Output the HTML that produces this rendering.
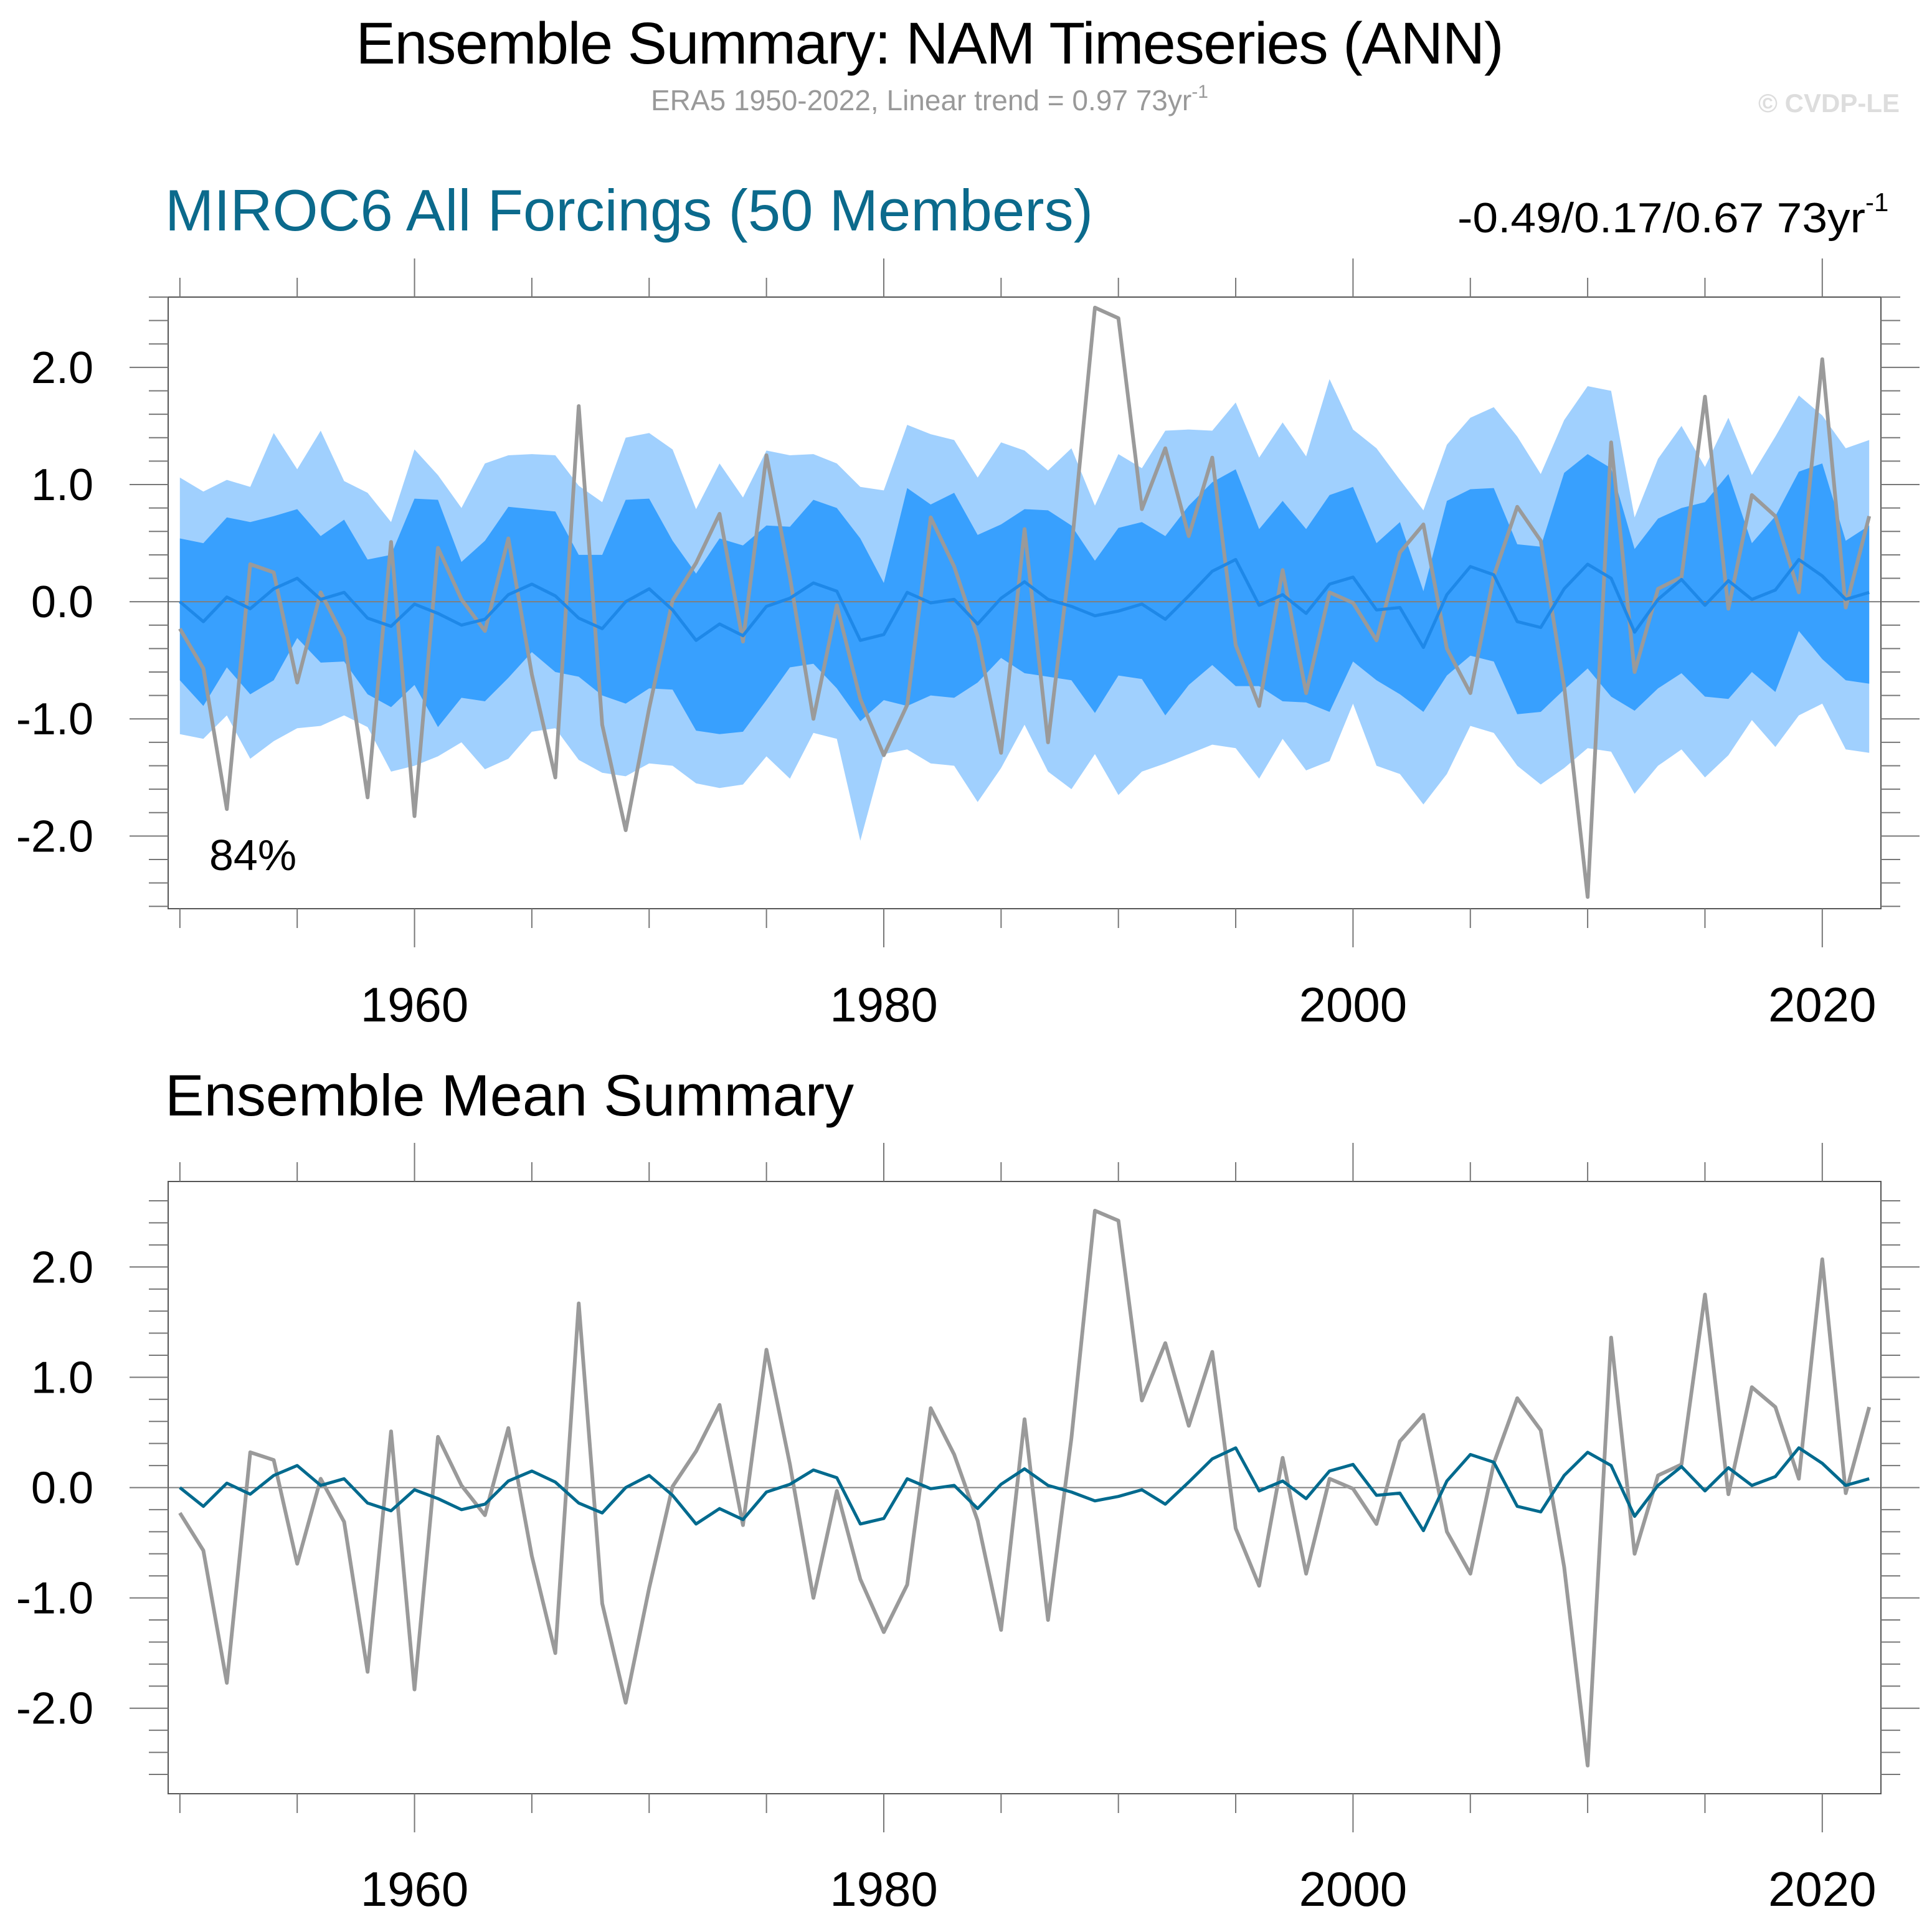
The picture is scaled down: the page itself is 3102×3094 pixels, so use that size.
<!DOCTYPE html>
<html><head><meta charset="utf-8"><style>
html,body{margin:0;padding:0;background:#fff;}
svg{display:block;font-family:"Liberation Sans",Arial,sans-serif;}
</style></head><body>
<svg id="chart" width="3102" height="3094" viewBox="0 0 3102 3094" xmlns="http://www.w3.org/2000/svg">
<text x="1493" y="102" font-size="95" text-anchor="middle" textLength="1843" fill="#000">Ensemble Summary: NAM Timeseries (ANN)</text>
<text x="1045" y="177" font-size="46" fill="#999">ERA5 1950-2022, Linear trend = 0.97 73yr<tspan dy="-20" font-size="30">-1</tspan></text>
<text x="3050" y="180" font-size="42" font-weight="bold" fill="#ddd" text-anchor="end">© CVDP-LE</text>
<text x="265" y="370" font-size="94" fill="#0b6a8c" textLength="1490">MIROC6 All Forcings (50 Members)</text>
<text x="2340" y="373" font-size="68" fill="#000"><tspan textLength="655" lengthAdjust="spacingAndGlyphs">-0.49/0.17/0.67 73yr</tspan><tspan dy="-34" font-size="42">-1</tspan></text>
<text x="265" y="1791" font-size="94" fill="#000" textLength="1106">Ensemble Mean Summary</text>
<g id="p1"></g>
<g id="p2"></g>
</svg>
<script>
const years = Array.from({length:73},(_,i)=>1950+i);
const era5 = [-0.23,-0.57,-1.77,0.32,0.25,-0.69,0.08,-0.31,-1.67,0.51,
-1.83,0.46,0.02,-0.25,0.54,-0.62,-1.50,1.67,-1.05,-1.95,
-0.91,0.01,0.33,0.75,-0.34,1.25,0.21,-1.00,-0.03,-0.83,
-1.31,-0.88,0.72,0.30,-0.30,-1.29,0.62,-1.20,0.45,2.51,
2.42,0.79,1.31,0.56,1.23,-0.37,-0.89,0.27,-0.78,0.08,
-0.01,-0.33,0.42,0.66,-0.40,-0.78,0.22,0.81,0.52,-0.72,
-2.52,1.36,-0.60,0.11,0.21,1.75,-0.06,0.91,0.73,0.08,
2.07,-0.05,0.73];
const ensMean = [0.00,-0.17,0.04,-0.06,0.11,0.20,0.02,0.08,-0.14,-0.21,
-0.02,-0.10,-0.20,-0.15,0.06,0.15,0.05,-0.14,-0.23,0.00,
0.11,-0.07,-0.33,-0.19,-0.29,-0.04,0.03,0.16,0.09,-0.33,
-0.28,0.08,-0.01,0.02,-0.19,0.03,0.17,0.02,-0.04,-0.12,
-0.08,-0.02,-0.15,0.05,0.26,0.36,-0.03,0.06,-0.10,0.15,
0.21,-0.07,-0.05,-0.39,0.06,0.30,0.23,-0.17,-0.22,0.11,
0.32,0.20,-0.26,0.02,0.19,-0.03,0.18,0.02,0.10,0.36,
0.22,0.02,0.08];
const darkUpper = [0.54,0.50,0.72,0.68,0.73,0.79,0.56,0.70,0.36,0.40,
0.88,0.87,0.34,0.52,0.81,0.79,0.77,0.40,0.40,0.87,
0.88,0.52,0.24,0.54,0.48,0.65,0.64,0.87,0.80,0.54,
0.16,0.97,0.83,0.93,0.57,0.66,0.79,0.78,0.65,0.35,
0.63,0.68,0.56,0.82,1.02,1.13,0.62,0.86,0.62,0.91,
0.98,0.50,0.68,0.09,0.86,0.96,0.97,0.49,0.47,1.10,
1.26,1.14,0.45,0.71,0.80,0.85,1.09,0.50,0.73,1.11,
1.18,0.52,0.65];
const darkLower = [-0.67,-0.89,-0.56,-0.79,-0.67,-0.31,-0.52,-0.51,-0.79,-0.90,
-0.71,-1.07,-0.82,-0.85,-0.65,-0.43,-0.60,-0.64,-0.80,-0.87,
-0.74,-0.75,-1.10,-1.13,-1.11,-0.84,-0.56,-0.53,-0.74,-1.02,
-0.84,-0.89,-0.80,-0.82,-0.69,-0.48,-0.61,-0.64,-0.67,-0.95,
-0.63,-0.66,-0.97,-0.71,-0.54,-0.72,-0.72,-0.85,-0.86,-0.94,
-0.51,-0.67,-0.79,-0.94,-0.63,-0.46,-0.51,-0.96,-0.94,-0.75,
-0.57,-0.81,-0.93,-0.74,-0.61,-0.81,-0.83,-0.60,-0.77,-0.25,
-0.49,-0.67,-0.70];
const lightUpper = [1.06,0.94,1.04,0.98,1.44,1.13,1.46,1.03,0.93,0.68,
1.30,1.08,0.80,1.18,1.25,1.26,1.25,0.99,0.85,1.40,
1.44,1.30,0.79,1.18,0.89,1.29,1.25,1.26,1.18,0.98,
0.95,1.51,1.43,1.38,1.06,1.36,1.29,1.12,1.31,0.82,
1.26,1.14,1.46,1.47,1.46,1.70,1.23,1.53,1.24,1.90,
1.47,1.31,1.04,0.78,1.34,1.57,1.66,1.41,1.09,1.55,
1.84,1.80,0.72,1.22,1.50,1.15,1.57,1.08,1.41,1.76,
1.59,1.31,1.38];
const lightLower = [-1.13,-1.17,-0.97,-1.34,-1.19,-1.08,-1.06,-0.97,-1.07,-1.45,
-1.40,-1.32,-1.20,-1.43,-1.34,-1.11,-1.08,-1.35,-1.46,-1.49,
-1.38,-1.40,-1.55,-1.59,-1.56,-1.32,-1.51,-1.12,-1.17,-2.04,
-1.30,-1.26,-1.38,-1.40,-1.71,-1.42,-1.05,-1.45,-1.60,-1.30,
-1.65,-1.45,-1.38,-1.30,-1.22,-1.25,-1.51,-1.17,-1.44,-1.36,
-0.87,-1.40,-1.47,-1.73,-1.47,-1.06,-1.12,-1.40,-1.56,-1.42,
-1.25,-1.28,-1.64,-1.40,-1.26,-1.50,-1.31,-1.01,-1.24,-0.97,
-0.87,-1.26,-1.29];
const yTickValues = [-2.0,-1.0,0.0,1.0,2.0];
const yTickLabels = ["-2.0","-1.0","0.0","1.0","2.0"];
const xTickYears = [1960,1980,2000,2020];
const xTickLabels = ["1960","1980","2000","2020"];

const NS="http://www.w3.org/2000/svg";
function mk(parent,tag,attrs){const e=document.createElementNS(NS,tag);for(const k in attrs)e.setAttribute(k,attrs[k]);parent.appendChild(e);return e;}

function panel(g, top, bottom, yMin, yMax, bands, meanColor, pfx, labelBase){
  const L=270,R=3020,x0=1949.5,x1=2022.5;
  const xs=v=>L+(v-x0)/(x1-x0)*(R-L);
  const ys=v=>bottom-(v-yMin)/(yMax-yMin)*(bottom-top);
  const pts=(arr)=>arr.map((v,i)=>xs(years[i]).toFixed(1)+","+ys(v).toFixed(1));
  if(bands){
    const lb=mk(g,'polygon',{points:pts(lightUpper).concat(pts(lightLower).reverse()).join(' '),fill:'#a0d0fe'});
    
    
    const db=mk(g,'polygon',{points:pts(darkUpper).concat(pts(darkLower).reverse()).join(' '),fill:'#38a0fe'});
    
    
  }
  const z=mk(g,'line',{x1:L,x2:R,y1:ys(0),y2:ys(0),stroke:'#7f7f7f','stroke-width':2});
  
  
  const gl=mk(g,'polyline',{points:pts(era5).join(' '),fill:'none',stroke:'#9a9a9a','stroke-width':6,'stroke-linejoin':'round'});
  
  
  const ml=mk(g,'polyline',{points:pts(ensMean).join(' '),fill:'none',stroke:meanColor,'stroke-width':5,'stroke-linejoin':'round'});
  
  
  const fr=mk(g,'rect',{x:L,y:top,width:R-L,height:bottom-top,fill:'none',stroke:'#555','stroke-width':2});
  
  
  for(let k=-13;k<=13;k++){
    const v=k*0.2; if(v<yMin-1e-6||v>yMax+1e-6) continue;
    const major=Math.abs(k%5)===0; const len=major?62:31; const y=ys(v);
    const t1=mk(g,'line',{x1:L-len,x2:L,y1:y,y2:y,stroke:'#777','stroke-width':2});
    
    
    const t2=mk(g,'line',{x1:R,x2:R+len,y1:y,y2:y,stroke:'#777','stroke-width':2});
    
    
  }
  yTickValues.forEach((v,i)=>{
    const t=mk(g,'text',{x:150,y:ys(v)+25,'font-size':72,'text-anchor':'end',fill:'#000'});
    t.textContent=yTickLabels[i];
    
    
  });
  for(let yr=1950;yr<=2020;yr+=5){
    const major=yr%20===0; const len=major?62:31; const x=xs(yr);
    const a=mk(g,'line',{x1:x,x2:x,y1:top-len,y2:top,stroke:'#777','stroke-width':2});
    
    
    const b=mk(g,'line',{x1:x,x2:x,y1:bottom,y2:bottom+len,stroke:'#777','stroke-width':2});
    
    
  }
  xTickYears.forEach((yr,i)=>{
    const t=mk(g,'text',{x:xs(yr),y:labelBase,'font-size':78,'text-anchor':'middle',fill:'#000'});
    t.textContent=xTickLabels[i];
    
    
  });
}
panel(document.getElementById('p1'),477,1459,-2.62,2.6,true,'#1e88e8','top',1640);
panel(document.getElementById('p2'),1897,2880,-2.775,2.775,false,'#006a8e','bot',3060);
const pct=mk(document.getElementById('p1'),'text',{x:336,y:1397,'font-size':70,fill:'#000'});
pct.textContent='84%';


</script>
</body></html>
